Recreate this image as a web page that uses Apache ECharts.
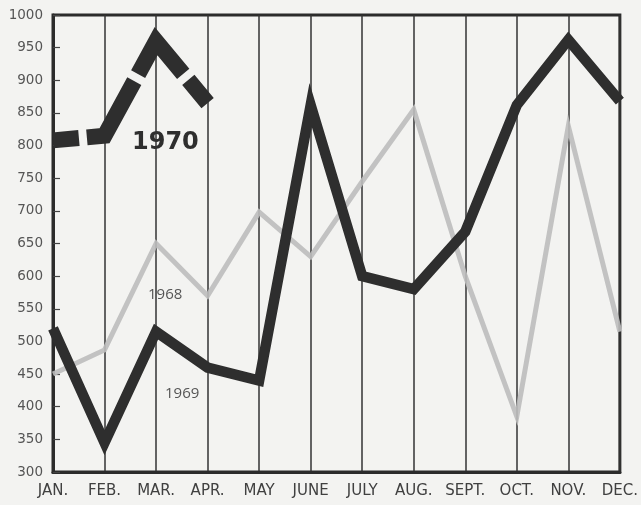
<!DOCTYPE html>
<html><head><meta charset="utf-8">
<script src="https://cdn.jsdelivr.net/npm/echarts@6/dist/echarts.min.js"></script>
<style>html,body{margin:0;padding:0;background:#f3f3f1;}#c{width:641px;height:505px;}</style>
</head><body><div id="c"></div>
<script>
const months = ['JAN.','FEB.','MAR.','APR.','MAY','JUNE','JULY','AUG.','SEPT.','OCT.','NOV.','DEC.'];
const y1968 = [450, 487, 650, 570, 698, 630, 745, 855, 600, 385, 830, 515];
const y1969 = [520, 345, 515, 460, 440, 862, 600, 580, 668, 862, 962, 868];
const y1970 = [808, 815, 960, 865];
const yMin = 300, yMax = 1000, yStep = 50;

const chart = echarts.init(document.getElementById('c'), null, {renderer:'canvas'});
chart.setOption({
  backgroundColor: '#f3f3f1',
  animation: false,
  grid: {left:53, right:19, top:15, bottom:33, show:true, borderColor:'#2b2b2b', borderWidth:3, backgroundColor:'transparent'},
  xAxis: {
    type:'category', data: months, boundaryGap:false,
    axisLine:{show:true, lineStyle:{color:'#2b2b2b', width:3}},
    axisTick:{show:false},
    axisLabel:{color:'#404040', fontSize:15, fontFamily:'DejaVu Sans', margin:12, interval:0},
    splitLine:{show:true, interval:0, lineStyle:{color:'#333', width:1.5}}
  },
  yAxis: {
    type:'value', min:yMin, max:yMax, interval:yStep,
    axisLine:{show:true, lineStyle:{color:'#2b2b2b', width:3}},
    axisTick:{show:true, inside:true, length:7, lineStyle:{color:'#444', width:1.2}},
    axisLabel:{color:'#555', fontSize:13.5, fontFamily:'DejaVu Sans', margin:10, formatter: v => String(v)},
    splitLine:{show:false}
  },
  series: [
    {name:'1968', type:'line', data:y1968, symbol:'none', z:2,
     lineStyle:{color:'#bdbdbd', width:5, opacity:0.9, join:'miter'}},
    {name:'1969', type:'line', data:y1969, symbol:'none', z:3,
     lineStyle:{color:'#2e2e2e', width:10.5, join:'miter', miterLimit:6}},
    {name:'1970', type:'line', data:y1970, symbol:'none', z:4,
     lineStyle:{color:'#2e2e2e', width:16, type:[80,8], dashOffset:54, cap:'butt', join:'miter', miterLimit:6}}
  ],
  graphic: [
    {type:'text', left:132, top:131, style:{text:'1970', font:'bold 24px "DejaVu Sans"', fill:'#2e2e2e'}},
    {type:'text', left:148, top:287, style:{text:'1968', font:'15px "Open Sans"', fill:'#555'}},
    {type:'text', left:165, top:386, style:{text:'1969', font:'15px "Open Sans"', fill:'#555'}}
  ]
});
</script></body></html>
